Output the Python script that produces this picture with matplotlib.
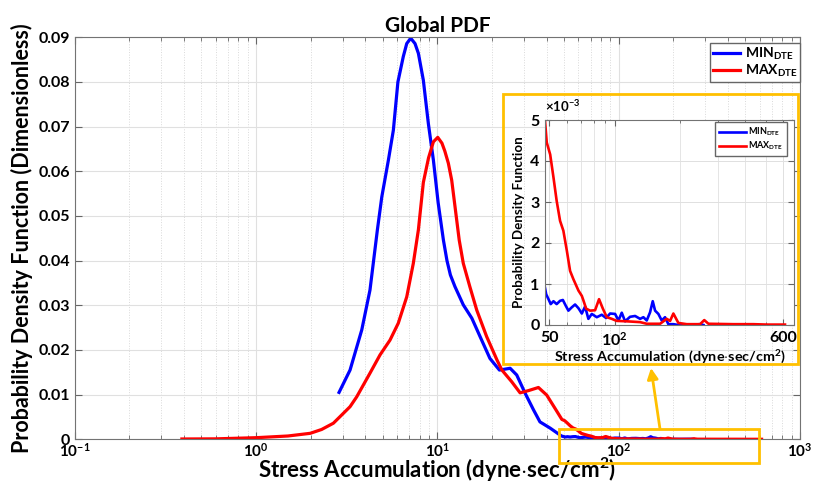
import numpy as np
import matplotlib
matplotlib.use('Agg')
import matplotlib.pyplot as plt
from matplotlib.patches import Rectangle
from matplotlib.ticker import FixedLocator, FixedFormatter, NullFormatter, LogLocator

# --- data ---
# blue (MIN_DTE), main body: stress accumulation / pdf
min_x = [2.87, 3.30, 3.83, 4.25, 4.67, 4.94, 5.37, 5.72, 6.06, 6.49, 6.78, 7.13,
         7.53, 7.86, 8.37, 8.92, 9.51, 10.1, 10.8, 11.3, 11.8, 12.5, 13.9, 15.5,
         17.2, 19.5, 22.0, 25.2, 27.4, 30.5, 33.9, 36.8, 41.9]
min_y = [0.0105, 0.0155, 0.0245, 0.0334, 0.0469, 0.0543, 0.0625, 0.0692, 0.0800,
         0.0857, 0.0886, 0.0898, 0.0886, 0.0864, 0.0804, 0.0707, 0.0625, 0.0530,
         0.0446, 0.0400, 0.0368, 0.0342, 0.0301, 0.0271, 0.0230, 0.0181, 0.0155,
         0.0159, 0.0144, 0.0103, 0.0066, 0.0039, 0.0025]
# blue tail (in units of 1e-3)
min_tail_x = [48.3, 49.5, 50.7, 52.2, 54.0, 56.0, 57.7, 59.5, 61.2, 63.4, 65.7, 68.1,
              70.6, 73.1, 75.7, 78.5, 82.8, 87.3, 91.4, 95.4, 100.6, 104.3, 108.0,
              111.9, 118.0, 124.5, 131.3, 136.0, 140.9, 146.0, 150.2, 154.0, 159.5,
              165.3, 171.2, 177.4, 187.1, 197.3, 215.7, 248.7, 257.7]
min_tail_y = [0.75, 0.63, 0.51, 0.58, 0.51, 0.59, 0.61, 0.47, 0.35, 0.43, 0.50, 0.41,
              0.28, 0.45, 0.15, 0.27, 0.19, 0.25, 0.17, 0.28, 0.27, 0.11, 0.30, 0.09,
              0.20, 0.22, 0.15, 0.19, 0.11, 0.31, 0.58, 0.35, 0.27, 0.11, 0.19, 0.02,
              0.02, 0.0, 0.0, 0.02, 0.0]

# red (MAX_DTE), main body
max_x = [0.39, 0.6, 1.0, 1.5, 1.99, 2.3, 2.67, 2.91, 3.30, 3.59, 4.25, 4.83, 5.48,
         6.09, 6.78, 7.37, 7.86, 8.37, 8.94, 9.51, 10.05, 10.6, 11.0, 11.5, 12.0,
         13.2, 13.9, 15.1, 16.5, 18.7, 21.3, 22.7, 25.7, 28.6, 31.8, 36.1, 40.1,
         44.6]
max_y = [0.00007, 0.0001, 0.00036, 0.00074, 0.00134, 0.0022, 0.0036, 0.0051, 0.0073,
         0.0095, 0.0148, 0.0189, 0.0222, 0.0260, 0.0319, 0.0394, 0.0469, 0.0575,
         0.0630, 0.0666, 0.0676, 0.0663, 0.0645, 0.0618, 0.0580, 0.0446, 0.0394,
         0.0342, 0.0289, 0.0230, 0.0178, 0.0155, 0.0129, 0.0104, 0.0109, 0.0116,
         0.0099, 0.0069]
# red tail (inset, units of 1e-3)
max_tail_x = [48.6, 50.4, 52.2, 54.0, 56.0, 58.0, 60.2, 62.3, 64.5, 68.1, 70.6, 71.8,
              73.9, 77.1, 81.3, 84.8, 88.3, 92.1, 97.1, 102.4, 113.9, 131.3, 140.9,
              162.5, 174.3, 180.7, 187.1, 197.3, 215.7, 248.7, 260.0, 271.8, 354.5,
              438.7, 505.5, 614.0]
max_tail_y = [4.45, 4.16, 3.60, 3.03, 2.54, 2.30, 1.81, 1.32, 1.12, 0.84, 0.71, 0.60,
              0.40, 0.35, 0.36, 0.63, 0.40, 0.19, 0.15, 0.10, 0.09, 0.07, 0.03, 0.03,
              0.15, 0.10, 0.28, 0.05, 0.02, 0.02, 0.12, 0.03, 0.02, 0.02, 0.01, 0.01]

main_yticks = [0, 0.01, 0.02, 0.03, 0.04, 0.05, 0.06, 0.07, 0.08, 0.09]
inset_xticks = [50, 100, 600]
inset_xlabels = ['50', r'10$^{2}$', '600']

BLUE = '#0000FF'
RED = '#FF0000'
GOLD = '#FFC000'

plt.rcParams['font.family'] = ['Lato', 'DejaVu Sans']
plt.rcParams['font.weight'] = 'bold'
plt.rcParams['mathtext.fontset'] = 'custom'
plt.rcParams['mathtext.rm'] = 'Lato:bold'
plt.rcParams['mathtext.it'] = 'Lato:bold:italic'
plt.rcParams['mathtext.bf'] = 'Lato:bold'
plt.rcParams['mathtext.default'] = 'rm'

W, H = 813, 483
fig = plt.figure(figsize=(W / 100, H / 100), dpi=100)


def px_box(x0, y0, x1, y1):
    # pixel box (top-left origin) -> figure fraction rect
    return [x0 / W, (H - y1) / H, (x1 - x0) / W, (y1 - y0) / H]


blue_x = np.array(min_x + min_tail_x)
blue_y = np.array(min_y + [v * 1e-3 for v in min_tail_y])
red_x = np.array(max_x + max_tail_x)
red_y = np.array(max_y + [v * 1e-3 for v in max_tail_y])

ax = fig.add_axes(px_box(74.7, 37.3, 800, 439.3))
ax.plot(blue_x, blue_y, color=BLUE, lw=2.3, label=r'MIN$_{\rm DTE}$')
ax.plot(red_x, red_y, color=RED, lw=2.3, label=r'MAX$_{\rm DTE}$')
ax.set_xscale('log')
ax.set_xlim(0.1, 1000)
ax.set_ylim(0, 0.09)
ax.yaxis.set_major_locator(FixedLocator(main_yticks))
ax.yaxis.set_major_formatter(FixedFormatter([f'{v:g}' for v in main_yticks]))
ax.xaxis.set_minor_locator(LogLocator(base=10, subs=np.arange(2, 10), numticks=20))
ax.xaxis.set_minor_formatter(NullFormatter())
ax.grid(which='major', color='0.88', lw=0.8)
ax.grid(which='minor', axis='x', color='0.85', lw=0.7, ls=':')
ax.tick_params(which='both', direction='in', top=True, right=True, color='0.4',
               labelsize=11.5)
ax.tick_params(axis='x', labelsize=11, pad=2)
ax.tick_params(which='major', length=5)
ax.tick_params(which='minor', length=3)
for s in ax.spines.values():
    s.set_color('0.45')
ax.set_title('Global PDF', fontsize=15, fontweight='bold', pad=4)
ax.set_xlabel(r'Stress Accumulation (dyne$\cdot$sec/cm$^{2}$)', fontsize=16,
              fontweight='bold', labelpad=-3)
ax.set_ylabel('Probability Density Function (Dimensionless)', fontsize=15.5,
              fontweight='bold', labelpad=4)
ax.legend(loc='upper right', bbox_to_anchor=(1.0, 0.985), fancybox=False,
          edgecolor='0.4', framealpha=1, fontsize=10, borderaxespad=0,
          handlelength=2.0, handletextpad=0.3, labelspacing=0.05,
          borderpad=0.2)

# highlight of the zoomed range on the main axes
ax.add_patch(Rectangle((47, -0.0053), 595 - 47, 0.0076, fill=False, ec=GOLD,
                       lw=2, clip_on=False, zorder=5))

# inset
ins = fig.add_axes(px_box(545, 120, 794.3, 325))
ins.plot(blue_x, blue_y * 1e3, color=BLUE, lw=1.9, label=r'MIN$_{\rm DTE}$')
ins.plot(red_x, red_y * 1e3, color=RED, lw=1.9, label=r'MAX$_{\rm DTE}$')
ins.set_xscale('log')
ins.set_xlim(47.7, 678)
ins.set_ylim(0, 5)
ins.xaxis.set_major_locator(FixedLocator(inset_xticks))
ins.xaxis.set_major_formatter(FixedFormatter(inset_xlabels))
ins.xaxis.set_minor_locator(LogLocator(base=10, subs=np.arange(2, 10), numticks=20))
ins.xaxis.set_minor_formatter(NullFormatter())
ins.set_yticks([0, 1, 2, 3, 4, 5])
ins.grid(which='major', color='0.88', lw=0.7)
ins.grid(which='minor', axis='x', color='0.88', lw=0.6)
ins.tick_params(which='both', direction='in', top=True, right=True, color='0.4',
                labelsize=11.5, pad=4)
ins.tick_params(which='major', length=4)
ins.tick_params(which='minor', length=2)
for s in ins.spines.values():
    s.set_color('0.45')
ins.set_xlabel(r'Stress Accumulation (dyne$\cdot$sec/cm$^{2}$)', fontsize=10.4,
               fontweight='bold', labelpad=0)
ins.set_ylabel('Probability Density Function', fontsize=9.6, fontweight='bold',
               labelpad=4)
ins.text(0.0, 1.03, r'$\times$10$^{-3}$', transform=ins.transAxes, fontsize=9.5,
         fontweight='bold', ha='left', va='bottom')
ins.legend(loc='upper right', bbox_to_anchor=(0.97, 0.99), fancybox=False,
           edgecolor='0.4', framealpha=1, fontsize=6.5, borderaxespad=0,
           handlelength=3.0, handletextpad=0.3, labelspacing=0.2,
           borderpad=0.4)

# golden frame round the inset and the arrow pointing to it
fig.add_artist(Rectangle(px_box(503.3, 94, 797.7, 364)[:2],
                         (797.7 - 503.3) / W, (364 - 94) / H,
                         transform=fig.transFigure, fill=False, ec=GOLD, lw=2))
ax.annotate('', xy=(651 / W, (H - 368) / H), xycoords='figure fraction',
            xytext=(660 / W, (H - 429) / H), textcoords='figure fraction',
            arrowprops=dict(arrowstyle='-|>', color=GOLD, lw=2,
                            mutation_scale=16, shrinkA=0, shrinkB=0))

fig.savefig('out.png', dpi=100)
